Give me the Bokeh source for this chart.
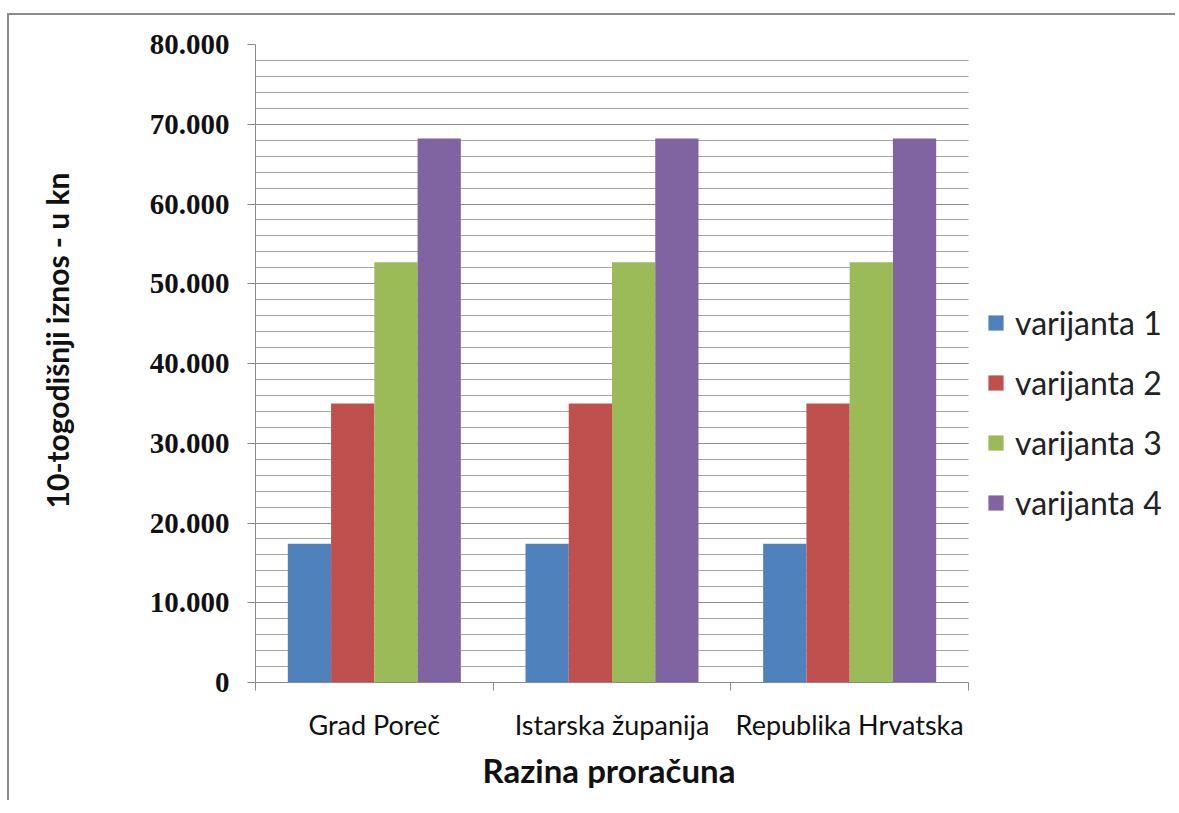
import numpy as np
from bokeh.plotting import figure
from bokeh.models import ColumnDataSource, Range1d, FixedTicker, Legend, LegendItem, Title
from bokeh.transform import dodge
from bokeh.embed import file_html
from bokeh.resources import INLINE

categories = ["Grad Poreč", "Istarska županija", "Republika Hrvatska"]
series_names = ["varijanta 1", "varijanta 2", "varijanta 3", "varijanta 4"]
varijanta_1 = [17400, 17400, 17400]
varijanta_2 = [35000, 35000, 35000]
varijanta_3 = [52700, 52700, 52700]
varijanta_4 = [68200, 68200, 68200]
colors = ["#4F81BD", "#C0504D", "#9BBB59", "#8064A2"]
y_ticks = [0, 10000, 20000, 30000, 40000, 50000, 60000, 70000, 80000]
y_tick_labels = ["0", "10.000", "20.000", "30.000", "40.000", "50.000", "60.000", "70.000", "80.000"]
y_minor = list(range(0, 80001, 2000))
x_title = "Razina proračuna"
y_title = "10-togodišnji iznos - u kn"

# layout (pixels)
W, H = 1168, 787
BL, BR, BT, BB = 246, 5, 29, 120
CAT_PX = 713 / 3.0          # width of one category on screen
n = len(categories)
frame_w = W - BL - BR
x_end = frame_w / CAT_PX     # frame extends past the last category to hold the legend

pos = list(np.arange(n) + 0.5)
src = ColumnDataSource(dict(x=pos, v1=varijanta_1, v2=varijanta_2, v3=varijanta_3, v4=varijanta_4))

p = figure(width=W, height=H, output_backend="svg", toolbar_location=None,
           x_range=Range1d(0, x_end), y_range=Range1d(0, 80000),
           min_border_left=BL, min_border_right=BR, min_border_top=BT, min_border_bottom=BB)
p.styles = {"transform": "translate(7px, 13px)",
            "border-left": "2px solid #8c8c8c", "border-top": "2px solid #8c8c8c"}
p.outline_line_color = None
p.background_fill_color = "white"

bw = 0.182
offsets = [-1.5 * bw, -0.5 * bw, 0.5 * bw, 1.5 * bw]
cols = ["v1", "v2", "v3", "v4"]
renderers = []
for c, off, col in zip(cols, offsets, colors):
    r = p.vbar(x=dodge("x", off, range=p.x_range), top=c, width=bw, bottom=0, source=src,
               fill_color=col, line_color=None)
    renderers.append(r)

legend = Legend(items=[LegendItem(label=nm, renderers=[r]) for nm, r in zip(series_names, renderers)],
                location=(731, 160))
legend.glyph_width = 19
legend.glyph_height = 19
legend.label_height = 19
legend.spacing = 21
legend.padding = 0
legend.margin = 0
legend.border_line_color = None
legend.background_fill_alpha = 0
legend.label_text_font = "Lato"
legend.label_text_font_size = "32px"
legend.label_text_color = "#222222"
legend.label_standoff = 10
p.add_layout(legend, "center")

# y axis
p.yaxis.ticker = FixedTicker(ticks=y_ticks, minor_ticks=y_minor)
p.yaxis.major_label_overrides = {t: l for t, l in zip(y_ticks, y_tick_labels)}
p.yaxis.major_label_text_font = "Liberation Serif"
p.yaxis.major_label_text_font_style = "bold"
p.yaxis.major_label_text_font_size = "29px"
p.yaxis.major_label_text_color = "#111111"
p.yaxis.major_tick_out = 8
p.yaxis.major_tick_in = 0
p.yaxis.minor_tick_out = 0
p.yaxis.minor_tick_in = 0
p.yaxis.major_label_standoff = 18
p.yaxis.axis_line_color = "#8a8a8a"
p.yaxis.major_tick_line_color = "#8a8a8a"

# x axis
p.xaxis.bounds = (0, n)
p.xaxis.ticker = FixedTicker(ticks=pos, minor_ticks=list(range(n + 1)))
p.xaxis.major_label_overrides = {float(x): c for x, c in zip(pos, categories)}
p.xaxis.major_tick_out = 0
p.xaxis.major_tick_in = 0
p.xaxis.minor_tick_out = 8
p.xaxis.minor_tick_in = 0
p.xaxis.minor_tick_line_color = "#8a8a8a"
p.xaxis.axis_line_color = "#8a8a8a"
p.xaxis.major_label_text_font = "Lato"
p.xaxis.major_label_text_font_size = "27px"
p.xaxis.major_label_text_color = "#111111"
p.xaxis.major_label_standoff = 17

# axis titles (as titles, so they can sit over the category area rather than the whole frame)
xt = Title(text=x_title, align="left", offset=227, text_font="Lato", text_font_style="bold",
           text_font_size="33px", text_color="#111111", standoff=8)
p.add_layout(xt, "below")
# invisible spacer between the y tick labels and the y title
gap = Title(text=" ", text_font_size="1px", standoff=69)
p.add_layout(gap, "left")
yt = Title(text=y_title, align="right", offset=128, text_font="Lato", text_font_style="bold",
           text_font_size="30px", text_color="#111111", standoff=0)
p.add_layout(yt, "left")

p.xgrid.grid_line_color = None
yg = p.ygrid[0]
yg.grid_line_color = "#8c8c8c"
yg.grid_line_width = 1
yg.minor_grid_line_color = "#a6a6a6"
yg.minor_grid_line_width = 1
if "cross_bounds" in yg.properties():
    yg.cross_bounds = (0, n)

open("out.html", "w").write(file_html(p, INLINE))
